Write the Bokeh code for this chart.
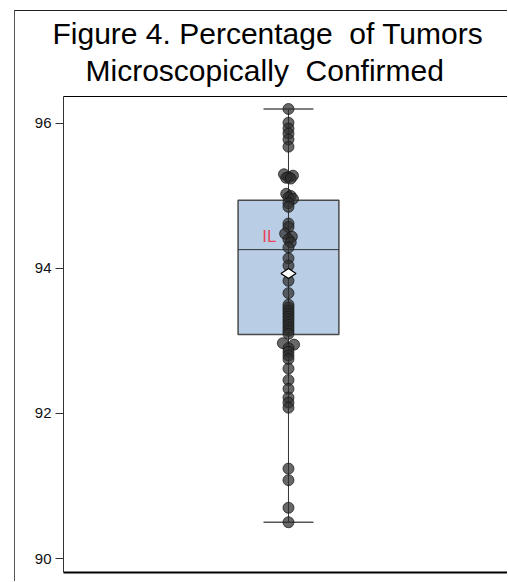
import math
from bokeh.plotting import figure
from bokeh.models import Range1d, LinearAxis, FixedTicker, Title
from bokeh.core.properties import value
from bokeh.embed import file_html
from bokeh.resources import INLINE

# Percentage of tumors microscopically confirmed (one value per registry)
pct = [96.20, 96.01, 95.93, 95.86, 95.78, 95.68,
       95.30, 95.28, 95.26, 95.25, 95.24,
       95.03, 95.00, 94.98, 94.96,
       94.90, 94.85,
       94.62, 94.57,
       94.48, 94.44, 94.40, 94.36,
       94.29, 94.14, 94.04, 93.83, 93.66,
       93.50, 93.46, 93.42, 93.38, 93.34, 93.30, 93.26, 93.22, 93.18, 93.14, 93.10,
       92.97, 92.95, 92.90, 92.85, 92.80, 92.75,
       92.62, 92.46, 92.34, 92.22, 92.15, 92.08,
       91.24, 91.08, 90.70, 90.50]
jitter = [0, 0, 0, 0, 0, 0,
          -0.02, 0.02, 0, -0.01, 0.01,
          -0.01, 0.01, 0, 0.02,
          0, 0,
          0, 0,
          -0.015, 0.015, 0, 0.01,
          0, 0, 0, 0, 0,
          0, 0, 0, 0, 0, 0, 0, 0, 0, 0, 0,
          -0.025, 0.025, 0, 0, 0, 0,
          0, 0, 0, 0, 0, 0,
          0, 0, 0, 0]

# Box-plot summary statistics
q1 = 93.09
median = 94.26
q3 = 94.94
mean = 93.93
whisker_low = 90.50
whisker_high = 96.20

y_ticks = [90, 92, 94, 96]
point_label = "IL"
point_label_value = 94.44

title_line1 = "Figure 4. Percentage\u00a0\u00a0of Tumors"
title_line2 = "Microscopically\u00a0\u00a0Confirmed"

FONT = "Liberation Sans"

p = figure(width=493, height=571, output_backend="svg", toolbar_location=None,
           x_range=Range1d(-1, 0.978), y_range=Range1d(89.807, 96.372),
           x_axis_location=None, y_axis_location="left",
           min_border_left=48, min_border_top=85, min_border_bottom=10,
           min_border_right=0)
p.title = None
p.styles = {"margin-left": "14px", "margin-top": "10px",
            "border-left": "1px solid #555555", "border-top": "1px solid #222222"}
p.outline_line_color = None
p.grid.visible = False
p.background_fill_color = "white"
p.border_fill_color = "white"

ya = p.yaxis[0]
ya.ticker = FixedTicker(ticks=y_ticks)
ya.minor_tick_line_color = None
ya.major_tick_in = 0
ya.major_tick_out = 8
ya.major_label_standoff = 4
ya.major_label_text_font = FONT
ya.major_label_text_font_size = "15px"
ya.major_label_text_color = "#111111"
ya.axis_line_color = "#333333"
ya.major_tick_line_color = "#333333"

for loc, w in (("below", 2), ("above", 1)):
    ax = LinearAxis(ticker=FixedTicker(ticks=[]), major_label_text_font_size="0px",
                    major_tick_out=0, major_tick_in=0, minor_tick_out=0, minor_tick_in=0,
                    major_label_standoff=0, axis_line_color="black", axis_line_width=w)
    p.add_layout(ax, loc)

p.add_layout(Title(text=title_line2, align="left", offset=22, standoff=19,
                   text_font=FONT, text_font_size="30px", text_font_style="normal",
                   text_color="black"), "above")
p.add_layout(Title(text=title_line1, align="left", offset=-11, standoff=-14,
                   text_font=FONT, text_font_size="30px", text_font_style="normal",
                   text_color="black"), "above")

box_half = 0.224
cap_half = 0.111

# whiskers
p.segment(x0=[0, 0], x1=[0, 0], y0=[whisker_low, q3], y1=[q1, whisker_high],
          line_color="#333333", line_width=1)
p.segment(x0=[-cap_half, -cap_half], x1=[cap_half, cap_half],
          y0=[whisker_low, whisker_high], y1=[whisker_low, whisker_high],
          line_color="#555555", line_width=1.5)
# box
p.quad(left=[-box_half], right=[box_half], bottom=[q1], top=[q3],
       fill_color="#b9cde5", line_color="#4a4a4a", line_width=1.5)
p.segment(x0=[-box_half], x1=[box_half], y0=[median], y1=[median],
          line_color="#333333", line_width=1)
p.segment(x0=[0], x1=[0], y0=[q1], y1=[q3], line_color="#333333", line_width=1)

# points
p.scatter(x=jitter, y=pct, size=11, fill_color="#2e2e2e", fill_alpha=0.72,
          line_color="#111111", line_alpha=0.7, line_width=1)

# mean
p.scatter(x=[0], y=[mean], marker="diamond", size=15, angle=math.pi / 2,
          fill_color="white", line_color="black", line_width=1.3)

p.text(x=[0], y=[point_label_value], text=[point_label], text_align="right",
       text_baseline="middle", x_offset=-12, text_color="#e8475a",
       text_font=value(FONT), text_font_size="17px")

open("out.html", "w").write(file_html(p, INLINE))
